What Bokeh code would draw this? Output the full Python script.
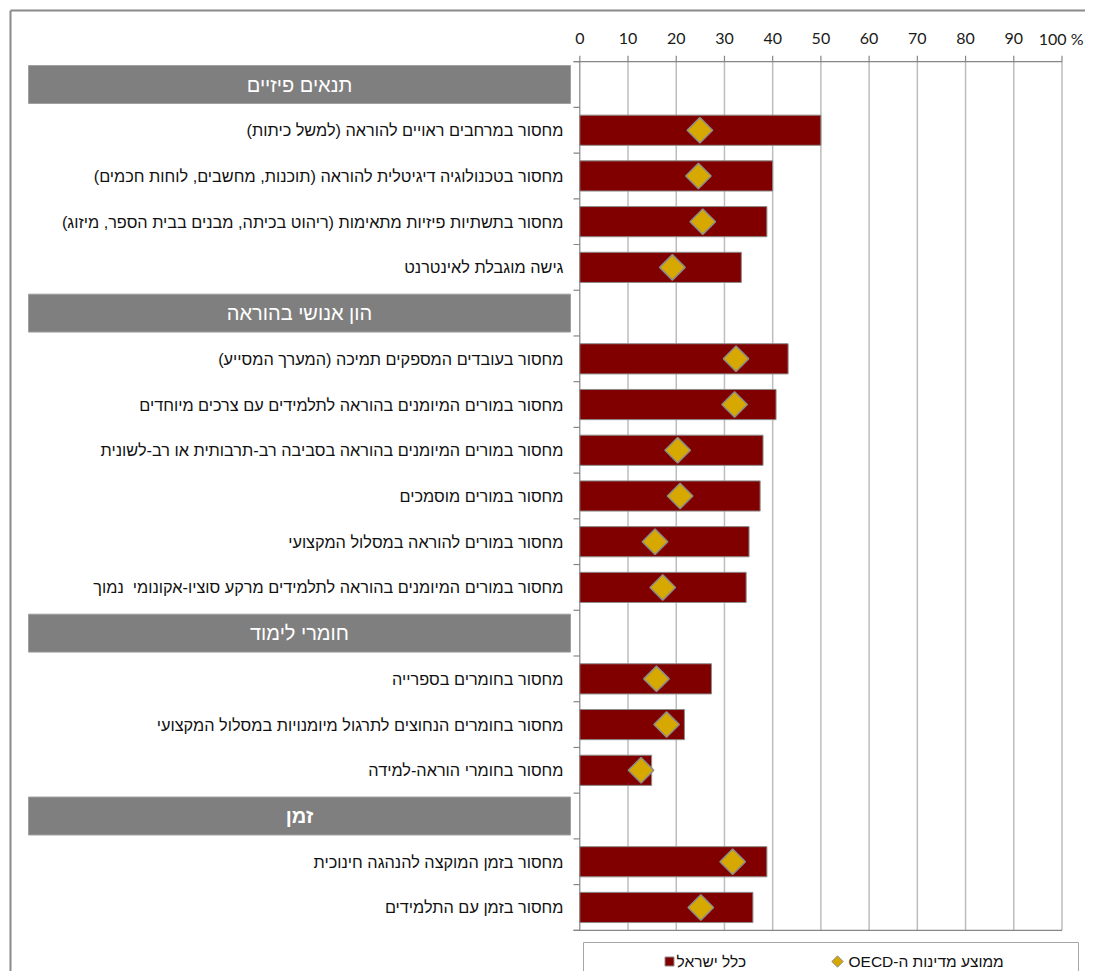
import numpy as np
from bokeh.plotting import figure
from bokeh.models import ColumnDataSource, Range1d
from bokeh.core.properties import value
from bokeh.embed import file_html
from bokeh.resources import INLINE

# ---------------- data ----------------
groups = ["תנאים פיזיים", "הון אנושי בהוראה", "חומרי לימוד", "זמן"]
items = [
    "מחסור במרחבים ראויים להוראה (למשל כיתות)",
    "מחסור בטכנולוגיה דיגיטלית להוראה (תוכנות, מחשבים, לוחות חכמים)",
    "מחסור בתשתיות פיזיות מתאימות (ריהוט בכיתה, מבנים בבית הספר, מיזוג)",
    "גישה מוגבלת לאינטרנט",
    "מחסור בעובדים המספקים תמיכה (המערך המסייע)",
    "מחסור במורים המיומנים בהוראה לתלמידים עם צרכים מיוחדים",
    "מחסור במורים המיומנים בהוראה בסביבה רב-תרבותית או רב-לשונית",
    "מחסור במורים מוסמכים",
    "מחסור במורים להוראה במסלול המקצועי",
    "מחסור במורים המיומנים בהוראה לתלמידים מרקע סוציו-אקונומי\u00a0 נמוך",
    "מחסור בחומרים בספרייה",
    "מחסור בחומרים הנחוצים לתרגול מיומנויות במסלול המקצועי",
    "מחסור בחומרי הוראה-למידה",
    "מחסור בזמן המוקצה להנהגה חינוכית",
    "מחסור בזמן עם התלמידים",
]
item_group = [0, 0, 0, 0, 1, 1, 1, 1, 1, 1, 2, 2, 2, 3, 3]
israel = [50.0, 40.0, 38.8, 33.5, 43.2, 40.7, 38.0, 37.4, 35.1, 34.5, 27.3, 21.7, 14.9, 38.8, 35.9]
oecd = [24.9, 24.6, 25.5, 19.2, 32.4, 32.1, 20.3, 20.8, 15.6, 17.2, 15.9, 18.0, 12.7, 31.7, 25.1]
tick_values = [0, 10, 20, 30, 40, 50, 60, 70, 80, 90, 100]
tick_labels = ["0", "10", "20", "30", "40", "50", "60", "70", "80", "90", "100 %"]
legend_labels = ["כלל ישראל", "ממוצע מדינות ה-OECD"]

# ---------------- layout helpers ----------------
W, H = 1085, 971
PX0, PX100 = 579.3, 1061.5          # px of 0 % and 100 %
ROW0, ROWH = 84.0, 45.72            # px of row 0 centre, row height
KX = (PX100 - PX0) / 100.0


def px2x(px):
    return (px - PX0) / KX


def px2y(py):
    return (py - ROW0) / ROWH


def rtl(s):
    return "\u202b" + s + "\u202c"


# row positions: header rows followed by their items
header_rows = []
item_rows = []
r = 0
for g in range(len(groups)):
    header_rows.append(r)
    r += 1
    for i, ig in enumerate(item_group):
        if ig == g:
            item_rows.append(r)
            r += 1
n_rows = r

p = figure(width=W, height=H, output_backend="svg", toolbar_location=None,
           x_range=Range1d(px2x(0), px2x(W)),
           y_range=Range1d(px2y(H), px2y(0)),
           min_border=0, min_border_left=0, min_border_right=0,
           min_border_top=0, min_border_bottom=0)
p.axis.visible = False
p.grid.visible = False
p.outline_line_color = None
p.background_fill_color = "white"
p.border_fill_color = "white"

AX = "#868686"
GRID = "#bdbdbd"
top = -0.5
bot = n_rows - 0.5

# outer chart border (top + left)
p.segment(x0=[px2x(10), px2x(10)], y0=[px2y(10), px2y(10)],
          x1=[px2x(W + 5), px2x(10)], y1=[px2y(10), px2y(H + 5)],
          line_color="#8a8a8a", line_width=2)

# vertical gridlines
p.segment(x0=tick_values[1:], x1=tick_values[1:], y0=[top] * 10, y1=[bot] * 10,
          line_color=GRID, line_width=1.5)

# axes lines
p.segment(x0=[px2x(573), px2x(573), 0], x1=[100, 100, 0],
          y0=[top, bot, top], y1=[top, bot, bot], line_color=AX, line_width=1.2)
# top axis tick marks
p.segment(x0=tick_values, x1=tick_values, y0=[top - 6 / ROWH] * 11, y1=[top] * 11,
          line_color=AX, line_width=1.2)
# category tick marks
bounds = [b - 0.5 for b in range(n_rows + 1)]
p.segment(x0=[px2x(573)] * len(bounds), x1=[0] * len(bounds), y0=bounds, y1=bounds,
          line_color=AX, line_width=1.2)

# tick labels (last one, "100 %", is kept inside the right edge)
p.text(x=tick_values[:-1], y=[px2y(38)] * 10, text=tick_labels[:-1],
       text_font=value("Lato"), text_font_size="16px", text_color="#1a1a1a",
       text_align="center", text_baseline="middle")
p.text(x=[px2x(1083)], y=[px2y(38)], text=tick_labels[-1:],
       text_font=value("Lato"), text_font_size="16px", text_color="#1a1a1a",
       text_align="right", text_baseline="middle")

# bars
src = ColumnDataSource(dict(y=item_rows, israel=israel, oecd=oecd,
                            label=[rtl(s) for s in items]))
p.hbar(y="y", left=0, right="israel", height=0.66, source=src,
       fill_color="#800000", line_color="#8c8c8c", line_width=1)
p.scatter(x="oecd", y="y", source=src, marker="square", angle=np.pi / 4, size=18,
          fill_color="#D6A800", line_color="#8c8c8c", line_width=1.5)

# item labels
p.text(x=px2x(563), y="y", text="label", source=src,
       text_font=value("Liberation Sans"), text_font_size="16.3px", text_color="#111111",
       text_align="right", text_baseline="middle")

# group headers
p.quad(left=px2x(28), right=px2x(570),
       top=[hr - 0.415 for hr in header_rows], bottom=[hr + 0.415 for hr in header_rows],
       fill_color="#7f7f7f", line_color="#a0a0a0", line_width=1)
hsrc = ColumnDataSource(dict(y=header_rows, t=[rtl(g) for g in groups],
                             st=["bold" if i == len(groups) - 1 else "normal" for i in range(len(groups))]))
p.text(x=px2x(299), y="y", text="t", source=hsrc, text_font_style="st",
       text_font=value("Liberation Sans"), text_font_size="20px", text_color="white",
       text_align="center", text_baseline="middle")

# legend (box + items)
p.quad(left=px2x(583), right=px2x(1078), top=px2y(942), bottom=px2y(H + 5),
       fill_color="white", line_color="#a6a6a6", line_width=1)
ly = px2y(961)
p.scatter(x=[px2x(669)], y=[ly], marker="square", size=9,
          fill_color="#800000", line_color="#8c8c8c", line_width=1)
p.scatter(x=[px2x(837)], y=[ly], marker="square", angle=np.pi / 4, size=8,
          fill_color="#D6A800", line_color="#8c8c8c", line_width=1)
p.text(x=[px2x(676), px2x(848)], y=[ly, ly], text=[rtl(s) for s in legend_labels],
       text_font=value("Liberation Sans"), text_font_size="15.5px", text_color="#111111",
       text_align="left", text_baseline="middle")

open("out.html", "w").write(file_html(p, INLINE))
